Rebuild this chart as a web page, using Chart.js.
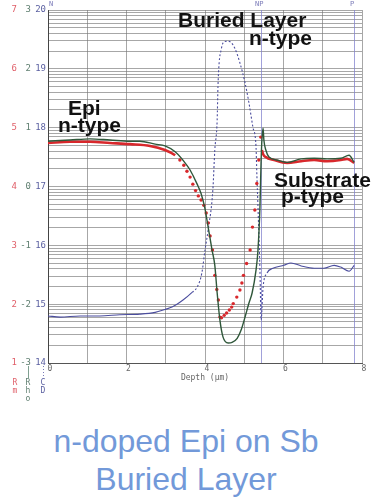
<!DOCTYPE html>
<html>
<head>
<meta charset="utf-8">
<script src="https://cdn.jsdelivr.net/npm/chart.js@4/dist/chart.umd.min.js"></script>
<style>
  html, body { margin: 0; padding: 0; background: #fff; }
  #wrap { position: relative; width: 384px; height: 497px; overflow: hidden; }
  #profile_chart { position: absolute; left: 0; top: 0; }
  #caption { position: absolute; left: 0; top: 422px; width: 372px; text-align: center;
             font: 32px "Liberation Sans", Arial, sans-serif; line-height: 38px; color: #7299d9; }
</style>
</head>
<body>
<div id="wrap">
  <canvas id="profile_chart" width="384" height="410"></canvas>
  <div id="caption">n-doped Epi on Sb<br>Buried Layer</div>
</div>
<script>
// values: depth in µm, concentrations as log10 (on the CD scale)
const depthCd = [0, 0.31, 0.82, 1.32, 1.83, 2.34, 2.73, 2.98, 3.16, 3.44,
                 3.67, 3.80, 3.92, 4.00, 4.08, 4.20, 4.25, 4.31, 4.33, 4.36,
                 4.41, 4.46, 4.56, 4.64, 4.76, 4.89, 5.02, 5.12, 5.22, 5.30,
                 5.32, 5.35, 5.40, 5.43, 5.48, 5.58, 5.73, 6.01, 6.19, 6.45,
                 6.78, 7.03, 7.29, 7.46, 7.67, 7.80];
const logCd = [14.80, 14.78, 14.80, 14.80, 14.82, 14.83, 14.86, 14.91, 14.95, 15.07,
               15.20, 15.29, 15.53, 15.92, 16.26, 16.94, 17.62, 18.13, 18.69, 19.10,
               19.32, 19.44, 19.47, 19.46, 19.35, 19.10, 18.76, 18.42, 18.01, 17.67,
               17.23, 16.65, 15.58, 14.73, 15.29, 15.53, 15.61, 15.66, 15.70, 15.65,
               15.61, 15.61, 15.66, 15.63, 15.56, 15.66];

const depthRho = [0, 0.56, 1.07, 1.58, 2.09, 2.34, 2.73, 2.98, 3.24, 3.54,
                  3.62, 3.80, 3.90, 4.00, 4.08, 4.18, 4.25, 4.31, 4.38, 4.46,
                  4.59, 4.69, 4.82, 4.92, 5.02, 5.12, 5.20, 5.30, 5.35, 5.40,
                  5.43, 5.45, 5.48, 5.50, 5.55, 5.63, 5.83, 6.09, 6.45, 6.78,
                  7.11, 7.46, 7.67, 7.80];
const logRho = [17.77, 17.79, 17.81, 17.79, 17.77, 17.77, 17.72, 17.69, 17.59, 17.36,
                17.28, 17.04, 16.88, 16.62, 16.31, 15.92, 15.66, 15.19, 14.73, 14.44,
                14.34, 14.35, 14.42, 14.56, 14.78, 15.02, 15.19, 15.58, 15.92, 16.65,
                17.45, 17.79, 17.99, 17.79, 17.62, 17.50, 17.45, 17.41, 17.47, 17.48,
                17.47, 17.48, 17.53, 17.41];

const depthRm = [0, 0.56, 1.07, 1.58, 2.09, 2.60, 2.98, 3.24,
                 3.36, 3.46, 3.54, 3.62, 3.69, 3.76, 3.83, 3.90, 3.97, 4.03,
                 4.08, 4.13, 4.19, 4.25, 4.30, 4.34, 4.38, 4.42, 4.49, 4.55,
                 4.62, 4.68, 4.72, 4.81, 4.89, 4.94, 4.98, 5.06, 5.15, 5.21,
                 5.27, 5.32, 5.37, 5.42,
                 5.45, 5.55, 5.76, 6.09, 6.45, 6.78, 7.11, 7.46, 7.62, 7.80];
const logRm = [17.74, 17.76, 17.76, 17.74, 17.72, 17.69, 17.62, 17.53,
               17.45, 17.36, 17.26, 17.16, 17.04, 16.93, 16.84, 16.77, 16.68, 16.55,
               16.38, 16.16, 15.92, 15.49, 15.25, 15.07, 14.78, 14.77, 14.81, 14.85,
               14.90, 14.95, 15.01, 15.12, 15.24, 15.36, 15.49, 15.69, 15.92, 16.31,
               16.60, 17.05, 17.45, 17.84,
               17.62, 17.50, 17.45, 17.40, 17.43, 17.45, 17.43, 17.45, 17.47, 17.40];

const decades = [14, 15, 16, 17, 18, 19, 20];
const rmLabels = ['1', '2', '3', '4', '5', '6', '7'];
const rhoLabels = ['-3', '-2', '-1', '0', '1', '2', '3'];
const cdLabels = ['14', '15', '16', '17', '18', '19', '20'];
const significands = [1, 2, 3, 4, 5, 6, 7, 8, 9];
const depthLabels = [0, 2, 4, 6, 8];
const markerDepths = [5.43, 7.80];
const markerLabels = ['NP', 'P'];

const rmColor = '#d8282c';
const rhoColor = '#2f573a';
const cdColor = '#4b4d9e';
const gridColor = 'rgba(120,120,120,0.65)';

function toPoints(depths, logs) {
  return depths.map(function(d, i) { return { x: d, y: Math.pow(10, logs[i]) }; });
}

// Rm is drawn as single dots where it changes fast, as a thick line elsewhere
function rmDotted(x) {
  return x > 3.3 && x < 5.44;
}

const yGrid = [];
decades.forEach(function(e) {
  if (e === 20) { yGrid.push(Math.pow(10, e)); return; }
  significands.forEach(function(s) { yGrid.push(s * Math.pow(10, e)); });
});

const labelsPlugin = {
  id: 'profileLabels',
  beforeDatasetsDraw: function(chart) {
    const ctx = chart.ctx, xs = chart.scales.x, area = chart.chartArea;
    ctx.save();
    ctx.strokeStyle = 'rgba(130,130,205,0.75)';
    ctx.lineWidth = 1;
    markerDepths.forEach(function(d) {
      const px = Math.round(xs.getPixelForValue(d)) + 0.5;
      ctx.beginPath();
      ctx.moveTo(px, area.top);
      ctx.lineTo(px, area.bottom);
      ctx.stroke();
    });
    ctx.restore();
  },
  afterDraw: function(chart) {
    const ctx = chart.ctx, xs = chart.scales.x, ys = chart.scales.y;
    ctx.save();
    ctx.font = '9px "DejaVu Sans Mono", monospace';
    ctx.textBaseline = 'middle';
    ctx.textAlign = 'right';
    decades.forEach(function(e, i) {
      const py = ys.getPixelForValue(Math.pow(10, e));
      ctx.fillStyle = '#e0606a';
      ctx.fillText(rmLabels[i], 17, py);
      ctx.fillStyle = '#5f7f70';
      ctx.fillText(rhoLabels[i], 31, py);
      ctx.fillStyle = '#5a5fa0';
      ctx.fillText(cdLabels[i], 46, py);
    });

    ctx.textAlign = 'center';
    ctx.font = '8px "DejaVu Sans Mono", monospace';
    ctx.fillStyle = '#666';
    depthLabels.forEach(function(d) {
      ctx.fillText(String(d), xs.getPixelForValue(d) + 2, 369);
    });
    ctx.fillText('Depth (µm)', xs.getPixelForValue(4), 378);

    // top markers
    ctx.font = '7px "DejaVu Sans Mono", monospace';
    ctx.fillStyle = '#7a7ab8';
    ctx.textAlign = 'left';
    ctx.fillText('N', xs.getPixelForValue(0) + 1, 4);
    ctx.textAlign = 'center';
    markerDepths.forEach(function(d, i) {
      ctx.fillText(markerLabels[i], xs.getPixelForValue(d) - 2, 4);
    });

    // little key under the axis labels
    ctx.font = '8px "DejaVu Sans Mono", monospace';
    ctx.fillStyle = '#e0606a';
    ctx.fillText('R', 15, 383);
    ctx.fillText('m', 15, 391);
    ctx.fillStyle = '#5f7f70';
    ctx.fillText('R', 28, 383);
    ctx.fillText('h', 28, 391);
    ctx.fillText('o', 28, 399);
    ctx.fillStyle = '#5a5fa0';
    ctx.fillText('C', 43, 383);
    ctx.fillText('D', 43, 391);
    ctx.strokeStyle = '#7f9f90';
    ctx.lineWidth = 1;
    ctx.beginPath();
    ctx.moveTo(28.5, 366);
    ctx.lineTo(28.5, 378);
    ctx.stroke();
    ctx.strokeStyle = '#7a7ab8';
    ctx.setLineDash([1, 2]);
    ctx.beginPath();
    ctx.moveTo(43.5, 366);
    ctx.lineTo(43.5, 378);
    ctx.stroke();
    ctx.setLineDash([]);

    // region names
    ctx.font = 'bold 21px "Liberation Sans", Arial, sans-serif';
    ctx.fillStyle = '#111';
    ctx.textAlign = 'left';
    ctx.textBaseline = 'alphabetic';
    ctx.fillText('Epi', 68, 115);
    ctx.fillText('n-type', 58, 132);
    ctx.fillText('Buried Layer', 178, 27);
    ctx.fillText('n-type', 249, 45);
    ctx.fillText('Substrate', 274, 187);
    ctx.fillText('p-type', 281, 203);
    ctx.restore();
  }
};

const chart = new Chart('profile_chart', {
  type: 'line',
  data: {
    datasets: [{
      label: 'Rho',
      data: toPoints(depthRho, logRho),
      borderColor: rhoColor,
      borderWidth: 1.4,
      pointRadius: 0,
      cubicInterpolationMode: 'monotone'
    }, {
      label: 'Rm',
      data: toPoints(depthRm, logRm),
      borderColor: rmColor,
      borderWidth: 2.6,
      pointRadius: function(ctx) { return ctx.raw && rmDotted(ctx.raw.x) ? 1.7 : 0; },
      pointBackgroundColor: rmColor,
      pointBorderWidth: 0,
      cubicInterpolationMode: 'monotone',
      segment: {
        borderColor: function(ctx) {
          return (rmDotted(ctx.p0.parsed.x) || rmDotted(ctx.p1.parsed.x)) ? 'rgba(0,0,0,0)' : undefined;
        }
      }
    }, {
      label: 'CD',
      data: toPoints(depthCd, logCd),
      borderColor: cdColor,
      borderWidth: 1.1,
      pointRadius: 0,
      cubicInterpolationMode: 'monotone',
      segment: {
        borderDash: function(ctx) {
          return (ctx.p0.parsed.x >= 3.6 && ctx.p1.parsed.x <= 5.6) ? [2, 2] : undefined;
        }
      }
    }]
  },
  options: {
    responsive: false,
    animation: false,
    layout: { padding: { left: 48, right: 22, top: 10, bottom: 47 } },
    plugins: {
      legend: { display: false },
      tooltip: { enabled: false }
    },
    scales: {
      x: {
        type: 'linear',
        min: 0,
        max: 8,
        ticks: { display: false, stepSize: 1 },
        grid: { color: gridColor, lineWidth: 1, drawTicks: false },
        border: { color: '#555', width: 1 }
      },
      y: {
        type: 'logarithmic',
        min: 1e14,
        max: 1e20,
        ticks: { display: false },
        afterBuildTicks: function(scale) {
          scale.ticks = yGrid.map(function(v) { return { value: v }; });
        },
        grid: { color: gridColor, lineWidth: 1, drawTicks: false },
        border: { color: '#444', width: 1 }
      }
    }
  },
  plugins: [labelsPlugin]
});
</script>
</body>
</html>
